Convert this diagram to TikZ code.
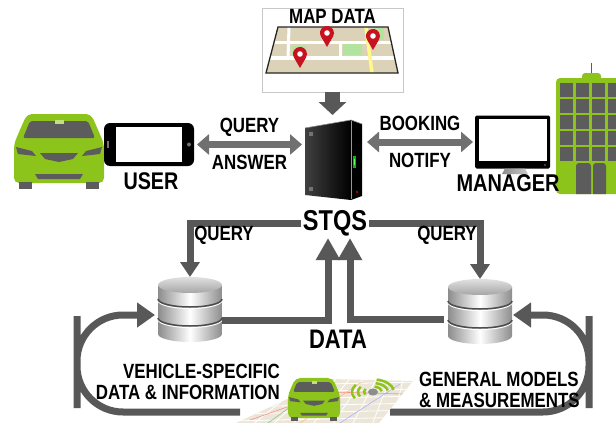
\documentclass[tikz,border=0pt]{standalone}
\usepackage{fontspec}
\setmainfont{Liberation Sans}[FakeStretch=0.82]
\usetikzlibrary{arrows.meta,positioning}

\definecolor{cargreen}{RGB}{141,196,28}
\definecolor{partgray}{RGB}{92,92,92}
\definecolor{flowgray}{RGB}{88,88,88}
\definecolor{linkgray}{RGB}{112,112,112}
\definecolor{mapbeige}{RGB}{219,210,184}
\definecolor{parkgreen}{RGB}{178,228,160}
\definecolor{pinred}{RGB}{200,18,32}

\tikzset{
  lbl/.style={font=\bfseries\fontsize{20.6}{21}\selectfont, inner sep=0pt, align=center},
  holder/.style={inner sep=0pt, outer sep=0pt},
  flow/.style={draw=flowgray, line width=7pt, -{Triangle[width=19pt,length=15pt]}},
  rise/.style={draw=flowgray, line width=7pt, -{Triangle[width=23pt,length=22pt]}},
  drop/.style={draw=flowgray, line width=15pt, -{Triangle[width=27pt,length=13pt]}},
  link/.style={draw=linkgray, line width=7pt, {Triangle[width=20pt,length=12pt]}-{Triangle[width=20pt,length=12pt]}},
  feedback/.style={draw=flowgray, line width=7pt, rounded corners=46pt, -{Triangle[width=24pt,length=18pt]}},
  carfront/.pic={
    \fill[cargreen, rounded corners=5pt] (-32,-38) -- (32,-38) -- (40,-20) -- (45,-8) -- (45,31) -- (-45,31) -- (-45,-8) -- (-40,-20) -- cycle;
    \fill[partgray] (-40,30) rectangle (-27,37);
    \fill[partgray] (27,30) rectangle (40,37);
    \fill[partgray, rounded corners=2pt] (-29,-31) -- (29,-31) -- (36,-14) -- (-36,-14) -- cycle;
    \fill[cargreen!55!white] (-4,-32) rectangle (5,-28);
    \fill[partgray] (-43,-5) -- (-27,-1) -- (-23,4) -- (-41,2) -- cycle;
    \fill[partgray] (43,-5) -- (27,-1) -- (23,4) -- (41,2) -- cycle;
    \fill[partgray] (-19,1) -- (19,1) -- (14,7) -- (0,10) -- (-14,7) -- cycle;
    \fill[partgray] (-24,22) -- (24,22) -- (21,27) -- (-21,27) -- cycle;
  },
  dbstack/.pic={
    \shade[left color=black!45, right color=black!45, middle color=white] (-32,-25) -- (-32,24) arc[start angle=180, end angle=0, x radius=32, y radius=8] -- (32,-25) -- cycle;
    \draw[white, line width=1pt] (-32,-9.5) arc[start angle=180, end angle=0, x radius=32, y radius=8];
    \draw[white, line width=1pt] (-32,9.5) arc[start angle=180, end angle=0, x radius=32, y radius=8];
    \draw[black!70, line width=1.5pt] (-32,-11) arc[start angle=180, end angle=0, x radius=32, y radius=8];
    \draw[black!70, line width=1.5pt] (-32,8) arc[start angle=180, end angle=0, x radius=32, y radius=8];
    \shade[top color=black!12, bottom color=black!35] (0,-25) ellipse[x radius=32, y radius=8];
  },
  pin/.pic={
    \fill[pinred] (0,14) -- ({7*cos(150)},{7*sin(150)}) arc[start angle=150, end angle=390, radius=7] -- cycle;
    \fill[white] (0,0) circle[radius=2.8];
  }
}

\begin{document}
\begin{tikzpicture}[x=1pt, y=-1pt]
  \useasboundingbox (0,0) rectangle (616,423);

  \node[holder, draw=black!22, fill=white, line width=0.8pt, minimum width=141pt, minimum height=84pt] (mapbox) at (332.5,50) {};
  \begin{scope}
    \clip (278,27) -- (388,27) -- (398,73) -- (266,73) -- cycle;
    \fill[mapbeige] (260,20) rectangle (405,80);
    \fill[parkgreen] (292,46) rectangle (306,56);
    \fill[parkgreen] (343,44) rectangle (362,55);
    \fill[parkgreen] (374,28) rectangle (384,40);
    \draw[white, line width=3pt] (260,42) -- (405,42);
    \draw[white, line width=3.5pt] (260,58) -- (405,58);
    \draw[white, line width=3pt] (289,27) -- (288,58);
    \draw[white, line width=3pt] (340,42) -- (340,58);
    \draw[yellow!45, line width=3.5pt] (366,27) -- (372,73);
  \end{scope}
  \draw[black!85, line width=1.3pt] (278,27) -- (388,27) -- (398,73) -- (266,73) -- cycle;
  \pic at (327,33) {pin};
  \pic at (373,36) {pin};
  \pic at (300,54) {pin};
  \node[lbl] (maptitle) at (332.5,16) {MAP DATA};

  \node[holder, minimum width=60pt, minimum height=87pt] (server) at (333,158.5) {};
  \shade[left color=black!75, right color=black] (305,128) -- (351,120) -- (351,200) -- (305,195) -- cycle;
  \fill[black] (351,120) -- (362,124) -- (362,196) -- (351,200) -- cycle;
  \draw[black!45, line width=0.6pt] (305,128) -- (351,120) -- (362,124);
  \draw[black!40, line width=0.6pt] (351,121) -- (351,199);
  \fill[black!55] (309,132) rectangle (313,136);
  \fill[black!55] (309,187) rectangle (313,191);
  \fill[green!75!black] (353,156) rectangle (355.5,168);
  \fill[green!60] (353.5,159) rectangle (355,165);
  \fill[red!60!black] (356,191) rectangle (357.5,192.5);

  \draw[drop] (mapbox.south) -- (mapbox.south |- server.north);

  \pic at (59,152) {carfront};
  \node[holder, fill=black, rounded corners=6pt, minimum width=90pt, minimum height=43pt] (phone) at (149,144.5) {};
  \fill[white] (116,127) rectangle (182,162);
  \fill[black!55] (189,144.5) circle[radius=2];
  \fill[black!55] (107,141) rectangle (109,148);
  \node[lbl, font=\bfseries\fontsize{24.1}{25}\selectfont] (user) at (151,181) {USER};

  \node[holder, fill=black, rounded corners=1.5pt, minimum width=75pt, minimum height=53pt] (monitor) at (512.5,142) {};
  \fill[white] (479,119) rectangle (547,161);
  \shade[left color=black!45, right color=black!20] (505,168.5) -- (525,168.5) -- (528,174) -- (502,174) -- cycle;
  \fill[black!50] (545,165) circle[radius=0.8];

  \fill[cargreen, rounded corners=4pt] (556,194) -- (556,78) -- (620,78) -- (620,194) -- cycle;
  \fill[cargreen, rounded corners=3pt] (582,81) -- (582,73) -- (601,73) -- (601,81) -- cycle;
  \draw[partgray, line width=1pt] (591.5,73) -- (591.5,63);
  \foreach \x in {560,576,592,608}
    \foreach \y in {83,99,115,131,147}
      \fill[partgray] (\x,\y) rectangle ++(13,14);
  \fill[partgray, rounded corners=3pt] (576,194) -- (576,163) -- (591,163) -- (591,194);
  \fill[partgray, rounded corners=3pt] (593,194) -- (593,163) -- (606,163) -- (606,194);
  \node[lbl, font=\bfseries\fontsize{24.3}{25}\selectfont] (manager) at (508,183) {MANAGER};

  \draw[link] ([xshift=3pt]phone.east) -- ([xshift=-1pt]phone.east -| server.west)
    node[lbl, midway, yshift=17pt] (query) {QUERY}
    node[lbl, midway, yshift=-18pt] (answer) {ANSWER};
  \draw[link] ([xshift=4pt]server.east |- monitor.west) -- ([xshift=-2pt]monitor.west)
    node[lbl, midway, yshift=19pt] (booking) {BOOKING}
    node[lbl, midway, yshift=-18pt] (notify) {NOTIFY};

  \node[lbl, inner sep=2pt, font=\bfseries\fontsize{28.7}{30}\selectfont] (stqs) at (335,223) {STQS};

  \node[holder, minimum width=64pt, minimum height=66pt] (db1) at (190,310) {};
  \node[holder, minimum width=64pt, minimum height=66pt] (db2) at (480,312) {};
  \pic at (db1) {dbstack};
  \pic at (db2) {dbstack};

  \draw[flow] (stqs.west) -| (db1.north);
  \draw[flow] (stqs.east) -| (db2.north);
  \node[lbl] (query2) at (224,235) {QUERY};
  \node[lbl] (query3) at (447,235) {QUERY};

  \draw[rise] ([yshift=-10pt]db1.east) -| ([xshift=-7pt]stqs.south);
  \draw[rise] ([xshift=-4pt,yshift=-7pt]db2.west) -| ([xshift=15pt]stqs.south);
  \node[lbl, font=\bfseries\fontsize{26.8}{28}\selectfont] (data) at (338,339) {DATA};

  \coordinate (lstart) at (240,412);
  \coordinate (lside) at (77,362);
  \coordinate (rstart) at (390,412);
  \coordinate (rside) at (589,362);
  \draw[feedback] (lstart) -| (lside) |- ([xshift=-3pt,yshift=-5pt]db1.west);
  \draw[feedback] (rstart) -| (rside) |- ([xshift=1pt,yshift=-3pt]db2.east);

  \begin{scope}
    \clip (330,379) -- (413,381) -- (379,423) -- (236,423) -- cycle;
    \fill[mapbeige!55] (230,375) rectangle (420,425);
    \foreach \i in {0,...,9}
      \draw[white, line width=0.8pt] (232+\i*20,425) -- (300+\i*13,376);
    \foreach \i in {0,...,5}
      \draw[white, line width=0.8pt] (230,386+\i*7) -- (420,382+\i*7);
    \draw[red!45, line width=0.6pt] (250,420) -- (330,392) -- (405,394);
    \draw[green!50!black!45, line width=0.6pt] (268,423) -- (322,384);
    \draw[orange!55, line width=0.6pt] (300,423) -- (362,382);
    \draw[blue!30, line width=0.6pt] (340,423) -- (400,384);
  \end{scope}
  \fill[partgray!70] (373,392) ellipse[x radius=5, y radius=3.5];
  \foreach \r in {9,15,21} {
    \draw[cargreen, line width=2.5pt] (373,392) ++({\r*cos(150)},{0.6*\r*sin(150)}) arc[start angle=150, end angle=215, x radius=\r, y radius=0.6*\r];
    \draw[cargreen, line width=2.5pt] (373,392) ++({\r*cos(280)},{0.6*\r*sin(280)}) arc[start angle=280, end angle=350, x radius=\r, y radius=0.6*\r];
  }
  \pic[scale=0.58] at (314,400) {carfront};

  \node[lbl, align=right, anchor=east] (vehicle) at (280,381.5) {VEHICLE-SPECIFIC\\DATA \& INFORMATION};
  \node[lbl, align=left, anchor=west] (general) at (419,390) {GENERAL MODELS\\\& MEASUREMENTS};
\end{tikzpicture}
\end{document}
